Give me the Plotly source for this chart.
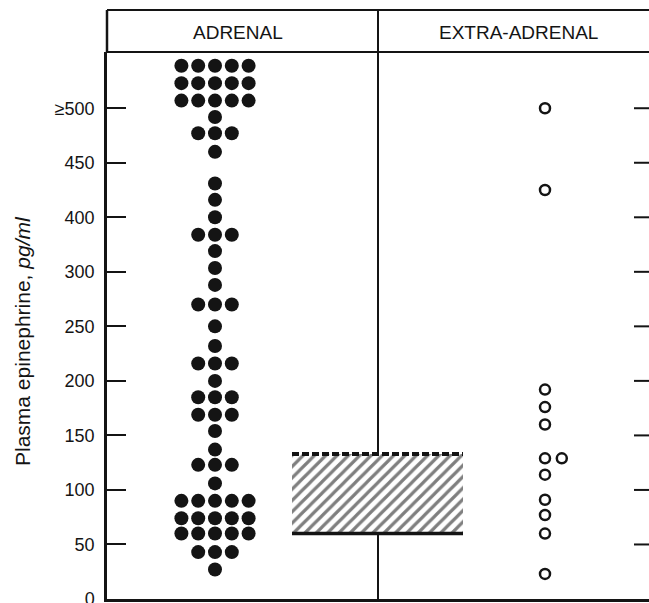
import numpy as np
import plotly.graph_objects as go

# ---------------- data ----------------
groups = ["ADRENAL", "EXTRA-ADRENAL"]

tick_values = [0, 50, 100, 150, 200, 250, 300, 400, 450, 500]
tick_labels = ["0", "50", "100", "150", "200", "250", "300", "400", "450", "≥500"]

# adrenal tumours: plasma epinephrine level of each row of dots (pg/ml) and dots per row
# (the three top rows are the stacked "≥500" group)
adrenal_levels = [539, 523, 507, 492, 477, 460, 431, 416, 400, 368, 338, 307, 288, 270,
                  250, 232, 216, 200, 185, 169, 154, 137, 123, 106, 90, 74, 60, 43, 27]
adrenal_counts = [5, 5, 5, 1, 3, 1, 1, 1, 1, 3, 1, 1, 1, 3,
                  1, 1, 3, 1, 3, 3, 1, 1, 3, 1, 5, 5, 5, 3, 1]

# extra-adrenal tumours
extra_levels = [500, 425, 192, 176, 160, 129, 114, 91, 77, 60, 23]
extra_counts = [1, 1, 1, 1, 1, 2, 1, 1, 1, 1, 1]

# normal range (hatched band)
normal_range = [60, 133]

# ---------------- layout constants ----------------
W, H = 649, 603
ML, MR, MT, MB = 107, 0, 52, 4
PW = W - ML - MR            # plot width in px (x axis uses px units)
PH = H - MT - MB
PX_PER_TICK = 54.53
Y_TOP = PH / PX_PER_TICK

ADRENAL_X = 108
EXTRA_X = 438
DIVIDER_X = 271
BOX_X = [185, 356]
STEP = 16.8
FONT = "Liberation Sans, Arial, sans-serif"
INK = "#141414"


def to_axis(v):
    """Broken (piecewise-linear) scale: each labelled tick is one unit apart."""
    xp = tick_values + [550]
    fp = list(range(len(tick_values))) + [len(tick_values)]
    return np.interp(v, xp, fp)


def dot_rows(levels, counts, cx, centered=True):
    xs, ys = [], []
    for lv, n in zip(levels, counts):
        for k in range(n):
            off = (k - (n - 1) / 2) * STEP if centered else k * STEP
            xs.append(cx + off)
            ys.append(float(to_axis(lv)))
    return xs, ys


fig = go.Figure()

# hatched normal range
b, t = float(to_axis(normal_range[0])), float(to_axis(normal_range[1]))
fig.add_trace(go.Scatter(
    x=[BOX_X[0], BOX_X[1], BOX_X[1], BOX_X[0], BOX_X[0]],
    y=[b, b, t, t, b], mode="lines", fill="toself",
    fillpattern=dict(shape="/", size=8, solidity=0.4, fgcolor="black", bgcolor="white"),
    line=dict(width=0), hoverinfo="skip", showlegend=False))
fig.add_trace(go.Scatter(x=BOX_X, y=[t, t], mode="lines",
                         line=dict(color=INK, width=4, dash="7px,3px"),
                         hoverinfo="skip", showlegend=False))
fig.add_trace(go.Scatter(x=BOX_X, y=[b, b], mode="lines",
                         line=dict(color=INK, width=3.5),
                         hoverinfo="skip", showlegend=False))

# adrenal (filled dots)
ax_, ay_ = dot_rows(adrenal_levels, adrenal_counts, ADRENAL_X, True)
fig.add_trace(go.Scatter(x=ax_, y=ay_, mode="markers", name=groups[0],
                         marker=dict(size=14, color=INK, line=dict(width=0)),
                         showlegend=False))

# extra-adrenal (open circles)
ex_, ey_ = dot_rows(extra_levels, extra_counts, EXTRA_X, False)
fig.add_trace(go.Scatter(x=ex_, y=ey_, mode="markers", name=groups[1],
                         marker=dict(size=10, color="white", line=dict(width=2.5, color=INK)),
                         showlegend=False))

shapes = []
hdr_top = 1 + (MT - 10) / PH  # header top (y = 10 px) in paper units
# header frame
shapes.append(dict(type="line", xref="paper", yref="paper", x0=0, x1=1.02, y0=hdr_top, y1=hdr_top,
                   line=dict(color=INK, width=2)))
shapes.append(dict(type="line", xref="paper", yref="paper", x0=0, x1=1.02, y0=1, y1=1,
                   line=dict(color=INK, width=2)))
shapes.append(dict(type="line", xref="paper", yref="paper", x0=0, x1=0, y0=1, y1=hdr_top,
                   line=dict(color=INK, width=2.5)))
# divider
shapes.append(dict(type="line", xref="x", yref="paper", x0=DIVIDER_X, x1=DIVIDER_X, y0=1, y1=hdr_top,
                   line=dict(color=INK, width=2)))
shapes.append(dict(type="line", xref="x", yref="y", x0=DIVIDER_X, x1=DIVIDER_X, y0=t, y1=Y_TOP,
                   line=dict(color=INK, width=2)))
shapes.append(dict(type="line", xref="x", yref="y", x0=DIVIDER_X, x1=DIVIDER_X, y0=0, y1=b,
                   line=dict(color=INK, width=2)))
# right-hand tick marks
for i in range(1, len(tick_values)):
    shapes.append(dict(type="line", xref="paper", yref="y", x0=(634 - ML) / PW, x1=1.02, y0=i, y1=i,
                       line=dict(color=INK, width=2)))

hdr_mid = 1 + (MT - 32) / PH
annotations = [
    dict(text=groups[0], xref="x", yref="paper", x=131, y=hdr_mid, xanchor="center", yanchor="middle",
         showarrow=False, font=dict(family=FONT, size=19, color=INK)),
    dict(text=groups[1], xref="x", yref="paper", x=411, y=hdr_mid, xanchor="center", yanchor="middle",
         showarrow=False, font=dict(family=FONT, size=19, color=INK)),
    dict(text="Plasma epinephrine, <i>pg/ml</i>", xref="paper", yref="paper",
         x=(22 - ML) / PW, y=(H - MB - 341) / PH, textangle=-90, showarrow=False,
         xanchor="center", yanchor="middle", font=dict(family=FONT, size=21, color=INK)),
]

fig.update_layout(
    width=W, height=H,
    margin=dict(l=ML, r=MR, t=MT, b=MB, pad=0, autoexpand=False),
    paper_bgcolor="white", plot_bgcolor="white",
    shapes=shapes, annotations=annotations,
    xaxis=dict(range=[0, PW], showgrid=False, zeroline=False, showticklabels=False, ticks="",
               showline=True, linecolor=INK, linewidth=3, fixedrange=True, automargin=False),
    yaxis=dict(range=[0, Y_TOP], showgrid=False, zeroline=False,
               tickvals=list(range(len(tick_values))), ticktext=tick_labels,
               ticks="inside", ticklen=19, tickwidth=2, tickcolor=INK,
               showline=True, linecolor=INK, linewidth=2.5,
               tickfont=dict(family=FONT, size=18, color=INK), ticklabelstandoff=6,
               ticklabeloverflow="allow", fixedrange=True, automargin=False),
)

fig.write_html(
    "out.html",
    config={"displayModeBar": False},
    post_script="document.body.style.margin='0';document.body.style.overflow='hidden';",
)
